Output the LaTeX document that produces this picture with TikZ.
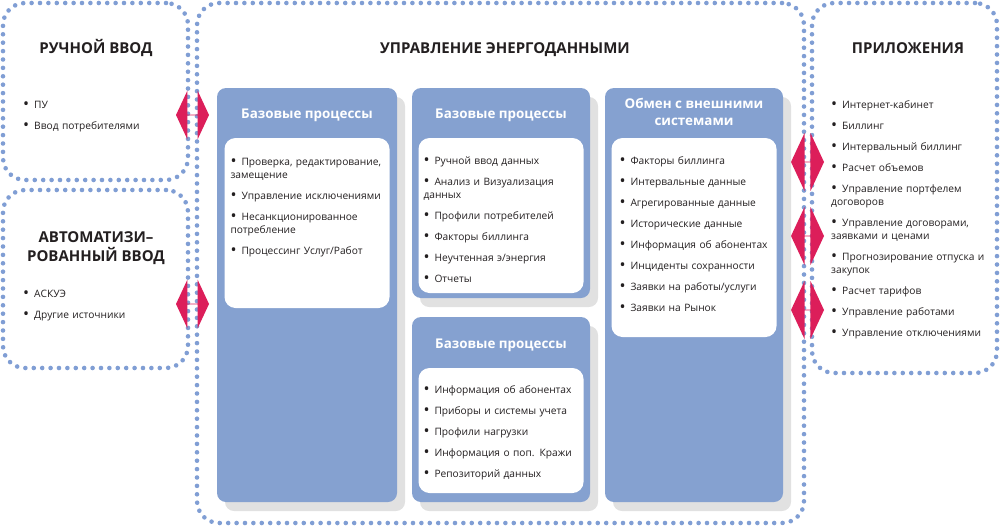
\documentclass[tikz,border=0pt]{standalone}
\usepackage{fontspec}
\setmainfont{Open Sans}
\usepackage{xcolor}
\usetikzlibrary{shapes.arrows, positioning, shadows}

\definecolor{dotblue}{RGB}{128,158,212}
\definecolor{panelblue}{RGB}{133,161,208}
\definecolor{shadowgray}{RGB}{225,225,225}
\definecolor{arrowred}{RGB}{220,30,90}
\definecolor{textdark}{RGB}{35,31,32}

% one bullet point of a list
\newcommand{\itm}[1]{\par\setlength{\parskip}{8pt}\hangindent=11pt\hangafter=1\noindent\makebox[11pt][l]{\raisebox{-0.2ex}{\fontsize{16}{13}\selectfont\textbullet}}\strut#1\strut\par}

\begin{document}
\begin{tikzpicture}[
    x=1pt, y=-1pt,
    font=\fontsize{10.2}{13}\selectfont,
    text=textdark,
    dotbox/.style={draw=dotblue, line width=4.6pt, dash pattern=on 0pt off 8.4pt, line cap=round, rounded corners=22pt, inner sep=0pt},
    panel/.style={fill=panelblue, rounded corners=9pt, inner sep=0pt, minimum width=178pt, drop shadow={shadow xshift=8pt, shadow yshift=-9pt, opacity=1, fill=shadowgray}},
    whitebox/.style={fill=white, rounded corners=11pt, inner sep=0pt, minimum width=165pt},
    headline/.style={font=\fontsize{15}{19}\selectfont\bfseries, align=center, anchor=base, inner sep=0pt},
    paneltitle/.style={font=\fontsize{13.4}{17}\selectfont\bfseries, text=white, align=center, anchor=base, inner sep=0pt},
    itemlist/.style={inner sep=0pt, align=left, text width=#1, font=\fontsize{10.2}{13}\selectfont},
    dblarrow/.style={double arrow, fill=arrowred, inner sep=0pt, minimum height=33pt, double arrow head extend=10pt, double arrow tip angle=130}
]
\useasboundingbox (0,0) rectangle (1000,527);

% Outer dotted areas
\node[dotbox, minimum width=185pt, minimum height=177pt] (manbox) at (95.5,91.5) {};
\node[dotbox, minimum width=185pt, minimum height=178pt] (autobox) at (95.5,279) {};
\node[dotbox, minimum width=607pt, minimum height=520pt] (edmbox) at (500.5,263) {};
\node[dotbox, minimum width=185pt, minimum height=370pt] (appbox) at (904.5,188) {};

% Headlines
\node[headline] (mantitle) at (96,53) {РУЧНОЙ ВВОД};
\node[headline] (autotitle) at (96,261) {АВТОМАТИЗИ–\\РОВАННЫЙ ВВОД};
\node[headline] (edmtitle) at (505,53) {УПРАВЛЕНИЕ ЭНЕРГОДАННЫМИ};
\node[headline] (apptitle) at (908,53) {ПРИЛОЖЕНИЯ};

% Double arrows between the areas
\node[dblarrow, minimum width=49pt] (arrman) at (192.5,115) {};
\node[dblarrow, minimum width=49pt] (arrauto) at (192.5,304) {};
\node[dblarrow, minimum width=58pt, double arrow head extend=12pt] (arrappa) at (807.5,162) {};
\node[dblarrow, minimum width=58pt, double arrow head extend=12pt] (arrappb) at (807.5,236) {};
\node[dblarrow, minimum width=58pt, double arrow head extend=12pt] (arrappc) at (807.5,310) {};

% Left lists
\node[itemlist=150pt, anchor=north west] (manlist) at (23,87.5) {\itm{ПУ}\itm{Ввод потребителями}};
\node[itemlist=150pt, anchor=north west] (autolist) at (23,276.5) {\itm{АСКУЭ}\itm{Другие источники}};

% Panels
\node[panel, minimum width=180pt, minimum height=414pt] (proc1) at (307,295) {};
\node[panel, minimum height=210pt] (proc2) at (501,193) {};
\node[panel, minimum height=185pt] (proc3) at (501,409.5) {};
\node[panel, minimum height=414pt] (exch) at (694,295) {};

\node[paneltitle] (proc1title) at ([yshift=-31pt]proc1.north) {Базовые процессы};
\node[paneltitle] (proc2title) at ([yshift=-31pt]proc2.north) {Базовые процессы};
\node[paneltitle] (proc3title) at ([yshift=-32pt]proc3.north) {Базовые процессы};
\node[paneltitle] (exchtitle) at ([yshift=-38pt]exch.north) {Обмен с внешними\\системами};

\node[whitebox, minimum height=170pt, below=50pt of proc1.north] (proc1body) {};
\node[whitebox, minimum height=155pt, below=50pt of proc2.north] (proc2body) {};
\node[whitebox, minimum height=125pt, below=51pt of proc3.north] (proc3body) {};
\node[whitebox, minimum height=199pt, below=50pt of exch.north] (exchbody) {};

\node[itemlist=156pt, below right=6.5pt and 6pt of proc1body.north west] (proc1list)
  {\itm{Проверка, редактирование,\\замещение}\itm{Управление исключениями}\itm{Несанкционированное\\потребление}\itm{Процессинг Услуг/Работ}};
\node[itemlist=156pt, below right=5.5pt and 5pt of proc2body.north west] (proc2list)
  {\itm{Ручной ввод данных}\itm{Анализ и Визуализация\\данных}\itm{Профили потребителей}\itm{Факторы биллинга}\itm{Неучтенная э/энергия}\itm{Отчеты}};
\node[itemlist=156pt, below right=4.5pt and 5pt of proc3body.north west] (proc3list)
  {\itm{Информация об абонентах}\itm{Приборы и системы учета}\itm{Профили нагрузки}\itm{Информация о поп. Кражи}\itm{Репозиторий данных}};
\node[itemlist=156pt, below right=5.5pt and 8pt of exchbody.north west] (exchlist)
  {\itm{Факторы биллинга}\itm{Интервальные данные}\itm{Агрегированные данные}\itm{Исторические данные}\itm{Информация об абонентах}\itm{Инциденты сохранности}\itm{Заявки на работы/услуги}\itm{Заявки на Рынок}};

% Right list
\node[itemlist=162pt, anchor=north west] (applist) at (831,87.5)
  {\itm{Интернет-кабинет}\itm{Биллинг}\itm{Интервальный биллинг}\itm{Расчет объемов}\itm{Управление портфелем\\договоров}\itm{Управление договорами,\\заявками и ценами}\itm{Прогнозирование отпуска и\\закупок}\itm{Расчет тарифов}\itm{Управление работами}\itm{Управление отключениями}};

\end{tikzpicture}
\end{document}
